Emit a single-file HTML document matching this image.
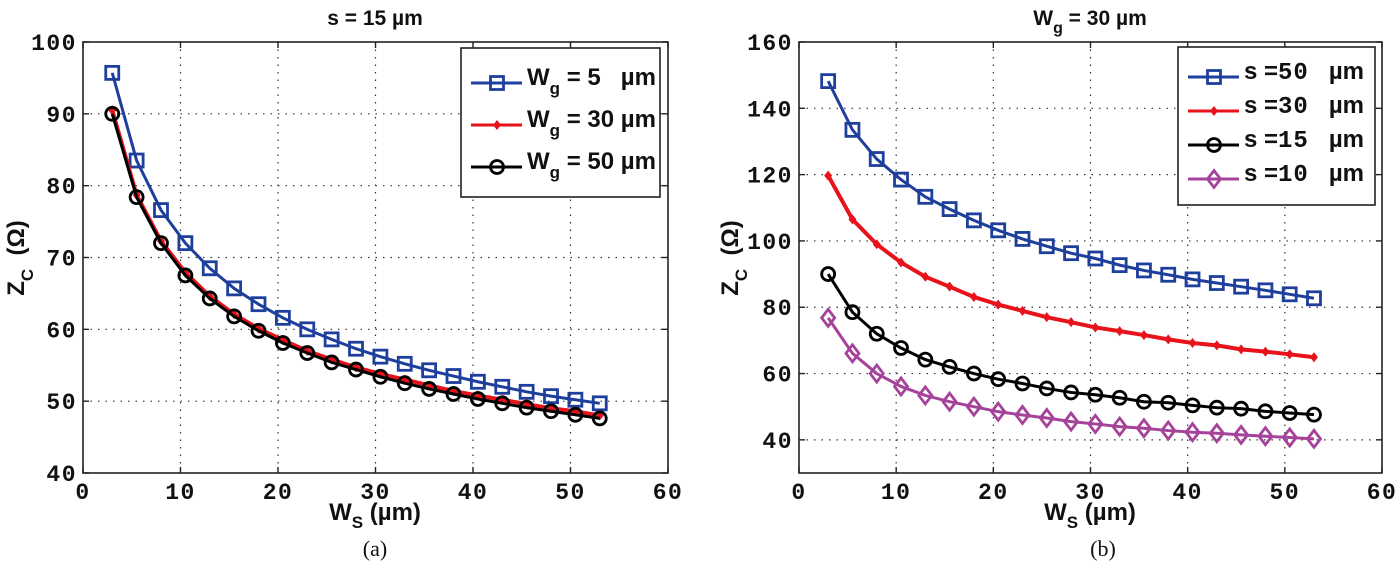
<!DOCTYPE html>
<html><head><meta charset="utf-8">
<style>
html,body{margin:0;padding:0;background:#fff;}
svg{display:block;}
.tick{font-family:"Liberation Mono",monospace;font-weight:bold;font-size:23px;letter-spacing:1.5px;fill:#111;}
.lab{font-family:"Liberation Sans",sans-serif;font-weight:bold;font-size:24px;fill:#111;}
.ttl{font-family:"Liberation Sans",sans-serif;font-weight:bold;font-size:21px;fill:#111;}
.cap{font-family:"Liberation Serif",serif;font-size:22px;fill:#111;}
</style></head>
<body>
<svg id="fig" width="1400" height="577" viewBox="0 0 1400 577" xmlns="http://www.w3.org/2000/svg"></svg>
<script>
const xs = [3,5.5,8,10.5,13,15.5,18,20.5,23,25.5,28,30.5,33,35.5,38,40.5,43,45.5,48,50.5,53];
const xTicks = [0,10,20,30,40,50,60];
const yTicksA = [40,50,60,70,80,90,100];
const yTicksB = [40,60,80,100,120,140,160];
const aWg5  = [95.7,83.5,76.6,72,68.5,65.7,63.5,61.6,60,58.6,57.3,56.2,55.2,54.3,53.5,52.7,52,51.3,50.7,50.2,49.7];
const aWg30 = [90.5,78.7,72.3,67.9,64.6,62.1,60.1,58.5,57,55.8,54.7,53.8,53,52.2,51.4,50.8,50.2,49.6,49,48.6,48];
const aWg50 = [90,78.4,72,67.5,64.3,61.8,59.8,58.1,56.7,55.4,54.4,53.4,52.5,51.7,51,50.3,49.7,49.1,48.6,48.1,47.6];
const bS50 = [148.2,133.5,124.7,118.5,113.3,109.6,106.2,103.2,100.6,98.4,96.3,94.7,92.7,91.1,89.8,88.4,87.3,86.2,85.1,83.9,82.7];
const bS30 = [119.7,106.5,99,93.5,89.2,86.2,83.1,80.8,78.9,77,75.5,73.9,72.8,71.6,70.3,69.2,68.5,67.3,66.6,65.8,64.9];
const bS15 = [90,78.5,72,67.7,64.2,62,60,58.3,57,55.5,54.3,53.6,52.7,51.5,51.2,50.4,49.7,49.4,48.6,48.1,47.6];
const bS10 = [76.8,66.1,60,56.1,53.4,51.5,50,48.5,47.5,46.6,45.5,44.8,44,43.5,42.8,42.3,42,41.5,41.1,40.7,40.3];

const NS="http://www.w3.org/2000/svg";
const svg=document.getElementById('fig');
function mk(tag,attrs,parent){const e=document.createElementNS(NS,tag);for(const k in attrs)e.setAttribute(k,attrs[k]);(parent||svg).appendChild(e);return e;}

function marker(g,type,x,y,color){
  let m;
  if(type==='sq') m=mk('rect',{x:x-6.5,y:y-6.5,width:13,height:13,fill:'none',stroke:color,'stroke-width':2.8},g);
  else if(type==='circ') m=mk('circle',{cx:x,cy:y,r:6.5,fill:'none',stroke:color,'stroke-width':2.8},g);
  else if(type==='dot') m=mk('path',{d:`M${x-4} ${y}L${x} ${y-5}L${x+4} ${y}L${x} ${y+5}Z`,fill:color},g);
  else m=mk('path',{d:`M${x-6.5} ${y}L${x} ${y-8.5}L${x+6.5} ${y}L${x} ${y+8.5}Z`,fill:'none',stroke:color,'stroke-width':2.8},g);
  
  
}

function panel(cfg){
  const {x0,x1,y0,y1,ymin,ymax,yTicks,series,id}=cfg;
  const sx=v=>x0+(v-0)/(60-0)*(x1-x0);
  const sy=v=>y1-(v-ymin)/(ymax-ymin)*(y1-y0);
  const g=mk('g',{});
  
  
  xTicks.forEach(t=>{ if(t>0&&t<60){const l=mk('line',{x1:sx(t),x2:sx(t),y1:y0,y2:y1,stroke:'#333','stroke-width':1.2,'stroke-dasharray':'1.5 6'},g);
    }});
  yTicks.forEach(t=>{ if(t>ymin&&t<ymax){const l=mk('line',{x1:x0,x2:x1,y1:sy(t),y2:sy(t),stroke:'#333','stroke-width':1.2,'stroke-dasharray':'1.5 6'},g);
    }});
  xTicks.forEach(t=>{
    mk('line',{x1:sx(t),x2:sx(t),y1:y1,y2:y1-6,stroke:'#222','stroke-width':1.4},g);
    mk('line',{x1:sx(t),x2:sx(t),y1:y0,y2:y0+6,stroke:'#222','stroke-width':1.4},g);
    const tx=mk('text',{x:sx(t),y:y1+26,'text-anchor':'middle',class:'tick'},g);tx.textContent=t;
    
  });
  yTicks.forEach(t=>{
    mk('line',{x1:x0,x2:x0+6,y1:sy(t),y2:sy(t),stroke:'#222','stroke-width':1.4},g);
    mk('line',{x1:x1,x2:x1-6,y1:sy(t),y2:sy(t),stroke:'#222','stroke-width':1.4},g);
    const tx=mk('text',{x:x0-6,y:sy(t)+8,'text-anchor':'end',class:'tick'},g);tx.textContent=t;
    
  });
  const box=mk('rect',{x:x0,y:y0,width:x1-x0,height:y1-y0,fill:'none',stroke:'#222','stroke-width':1.6},g);
  
  series.forEach(s=>{
    const sg=mk('g',{},g);
    
    
    const pts=xs.map((x,i)=>sx(x)+','+sy(s.data[i])).join(' ');
    mk('polyline',{points:pts,fill:'none',stroke:s.color,'stroke-width':s.w||3},sg);
    xs.forEach((x,i)=>marker(sg,s.m,sx(x),sy(s.data[i]),s.color));
  });
  const L=cfg.legend;
  const lg=mk('g',{},g);
  
  
  mk('rect',{x:L.x,y:L.y,width:L.w,height:L.h,fill:'#fff',stroke:'#222','stroke-width':1.6},lg);
  series.forEach((s,i)=>{
    const ly=L.y+L.first+i*L.step;
    const eg=mk('g',{},lg);
    
    
    mk('line',{x1:L.x+10,x2:L.x+61,y1:ly,y2:ly,stroke:s.color,'stroke-width':3},eg);
    marker(eg,s.m,L.x+36,ly,s.color);
    const t=mk('text',{x:L.x+66,y:ly+(L.dy||0),class:'lab'},eg);
    t.innerHTML=s.label;
  });
}

panel({id:'left',x0:83,x1:668,y0:42,y1:473,ymin:40,ymax:100,yTicks:yTicksA,
  series:[{name:'series-wg-5',data:aWg5,color:'#1f3f9c',m:'sq',label:'W<tspan font-size="17" dy="9">g</tspan><tspan dy="-9">&#160;= 5&#160;&#160;&#160;µm</tspan>'},
          {name:'series-wg-30',data:aWg30,color:'#e8131a',m:'dot',w:4,label:'W<tspan font-size="17" dy="9">g</tspan><tspan dy="-9">&#160;= 30 µm</tspan>'},
          {name:'series-wg-50',data:aWg50,color:'#000',m:'circ',label:'W<tspan font-size="17" dy="9">g</tspan><tspan dy="-9">&#160;= 50 µm</tspan>'}],
  legend:{x:461,y:48,w:199,h:149,first:35,step:42,dy:2}});

panel({id:'right',x0:799,x1:1382,y0:42,y1:473,ymin:30,ymax:160,yTicks:yTicksB,
  series:[{name:'series-s-50',data:bS50,color:'#1f3f9c',m:'sq',label:'s =<tspan font-family="Liberation Mono" letter-spacing="1">50</tspan>&#160;&#160;&#160;µm'},
          {name:'series-s-30',data:bS30,color:'#e8131a',m:'dot',w:4,label:'s =<tspan font-family="Liberation Mono" letter-spacing="1">30</tspan>&#160;&#160;&#160;µm'},
          {name:'series-s-15',data:bS15,color:'#000',m:'circ',label:'s =<tspan font-family="Liberation Mono" letter-spacing="1">15</tspan>&#160;&#160;&#160;µm'},
          {name:'series-s-10',data:bS10,color:'#a5439a',m:'dia',label:'s =<tspan font-family="Liberation Mono" letter-spacing="1">10</tspan>&#160;&#160;&#160;µm'}],
  legend:{x:1178,y:47,w:197,h:158,first:30,step:34,dy:2}});
</script>
<svg style="position:absolute;left:0;top:0" width="1400" height="577" xmlns="http://www.w3.org/2000/svg">
  <text class="ttl" x="375" y="25" text-anchor="middle">s = 15 µm</text>
  <text class="ttl" x="1090" y="25" text-anchor="middle">W<tspan font-size="16" dy="8">g</tspan><tspan dy="-8"> = 30 µm</tspan></text>
  <text class="lab" x="375" y="520" text-anchor="middle">W<tspan font-size="17" dy="8">S</tspan><tspan dy="-8"> (µm)</tspan></text>
  <text class="lab" x="1090" y="520" text-anchor="middle">W<tspan font-size="17" dy="8">S</tspan><tspan dy="-8"> (µm)</tspan></text>
  <text class="lab" transform="translate(24,258) rotate(-90)" text-anchor="middle">Z<tspan font-size="17" dy="9">C</tspan><tspan dy="-9">&#160;&#160;(Ω)</tspan></text>
  <text class="lab" transform="translate(738,258) rotate(-90)" text-anchor="middle">Z<tspan font-size="17" dy="9">C</tspan><tspan dy="-9">&#160;&#160;(Ω)</tspan></text>
  <text class="cap" x="375" y="556" text-anchor="middle">(a)</text>
  <text class="cap" x="1103" y="556" text-anchor="middle">(b)</text>
</svg>
</body></html>
